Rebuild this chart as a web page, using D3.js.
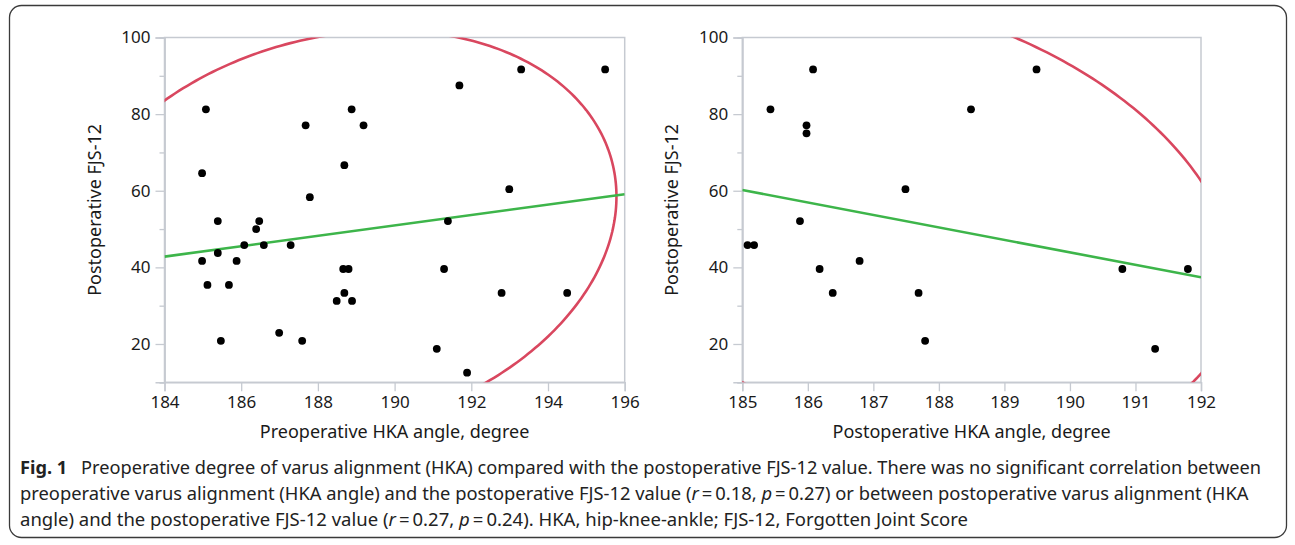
<!DOCTYPE html>
<html>
<head>
<meta charset="utf-8">
<script src="https://cdn.jsdelivr.net/npm/d3@7"></script>
<style>
  html, body { margin: 0; padding: 0; background: #fff; }
  svg { display: block; }
  text { font-family: "Noto Sans", "Open Sans", sans-serif; }
</style>
</head>
<body>
<svg id="chart" width="1295" height="545"></svg>
<script>
// ---------- DATA ----------
const yTicks = [20, 40, 60, 80, 100];
const yMinorTicks = [10, 30, 50, 70, 90];
const leftXTicks = [184, 186, 188, 190, 192, 194, 196];
const rightXTicks = [185, 186, 187, 188, 189, 190, 191, 192];

// Preoperative HKA angle vs postoperative FJS-12
const leftX = [185.08, 184.98, 187.68, 188.88, 189.19, 188.69, 187.79, 191.69, 193.30, 195.49,
               192.99, 185.39, 186.47, 186.39, 186.08, 186.59, 187.29, 185.39, 184.98, 185.88,
               188.66, 188.80, 185.12, 185.68, 188.69, 188.49, 188.89, 186.99, 185.47, 187.59,
               191.39, 191.29, 192.79, 194.50, 191.10, 191.89];
const leftY = [81.25, 64.58, 77.08, 81.25, 77.08, 66.67, 58.33, 87.50, 91.67, 91.67,
               60.42, 52.08, 52.08, 50.00, 45.83, 45.83, 45.83, 43.75, 41.67, 41.67,
               39.58, 39.58, 35.42, 35.42, 33.33, 31.25, 31.25, 22.92, 20.83, 20.83,
               52.08, 39.58, 33.33, 33.33, 18.75, 12.50];

// Postoperative HKA angle vs postoperative FJS-12
const rightX = [186.08, 185.43, 185.98, 185.98, 187.49, 188.49, 189.49, 185.88, 185.08, 185.18,
                186.79, 186.18, 186.38, 187.69, 187.79, 190.80, 191.80, 191.30];
const rightY = [91.67, 81.25, 77.08, 75.00, 60.42, 81.25, 91.67, 52.08, 45.83, 45.83,
                41.67, 39.58, 33.33, 33.33, 20.83, 39.58, 39.58, 18.75];

// Linear fit endpoints [x, y]
const leftFit = [[184, 42.8], [196, 59.1]];
const rightFit = [[185, 60.2], [192, 37.4]];

// 95% density ellipse parameters: [meanX, meanY, sdX, sdY, r]
const leftEllipse = [188.54, 48.97, 2.96, 21.6, 0.18];
const rightEllipse = [187.40, 52.38, 2.096, 24.18, -0.282];

// ---------- DRAW ----------
const svg = d3.select("#chart");
svg.append("rect").attr("x", 0).attr("y", 0).attr("width", 1295).attr("height", 545).attr("fill", "#fff");

// outer rounded frame
svg.append("rect")
  .attr("x", 9.5).attr("y", 5.5).attr("width", 1277).attr("height", 532)
  .attr("rx", 12).attr("ry", 12)
  .attr("fill", "none").attr("stroke", "#3a3a3a").attr("stroke-width", 1.3);

const K = Math.sqrt(5.991); // chi-square 2 df, 95%
const frameColor = "#c6cad1";
const red = "#d9475f";
const green = "#3db54a";

function panel(opts) {
  const { left, right, top, bottom, xDomain, xTicks, xs, ys, fit, ell, xTitle, yTitleX, id } = opts;
  const x = d3.scaleLinear().domain(xDomain).range([left, right]);
  const y = d3.scaleLinear().domain([10, 100]).range([bottom, top]);
  const g = svg.append("g");

  g.append("clipPath").attr("id", id).append("rect")
    .attr("x", left).attr("y", top).attr("width", right - left).attr("height", bottom - top);

  // frame
  g.append("rect").attr("x", left).attr("y", top).attr("width", right - left).attr("height", bottom - top)
    .attr("fill", "none").attr("stroke", frameColor).attr("stroke-width", 1.5);

  // axes
  const xAxis = d3.axisBottom(x).tickValues(xTicks).tickSize(9).tickPadding(5).tickFormat(d3.format("d"));
  const gx = g.append("g").attr("transform", `translate(0,${bottom})`).call(xAxis);
  const yAxis = d3.axisLeft(y).tickValues(yTicks).tickSize(9).tickPadding(5).tickFormat(d3.format("d"));
  const gy = g.append("g").attr("transform", `translate(${left},0)`).call(yAxis);
  const yMinor = d3.axisLeft(y).tickValues(yMinorTicks).tickSize(5).tickFormat("");
  const gym = g.append("g").attr("transform", `translate(${left},0)`).call(yMinor);
  [gx, gy, gym].forEach(a => {
    a.select(".domain").attr("stroke", frameColor).attr("stroke-width", 1.5);
    a.selectAll(".tick line").attr("stroke", frameColor).attr("stroke-width", 1.3);
    a.selectAll(".tick text").attr("fill", "#1a1a1a").style("font-size", "17px")
      .style("font-family", "'Noto Sans', sans-serif");
  });

  // ellipse
  const pts = d3.range(0, 361).map(deg => {
    const t = deg * Math.PI / 180;
    const [mx, my, sx, sy, r] = ell;
    return [mx + K * sx * Math.cos(t),
            my + K * sy * (r * Math.cos(t) + Math.sqrt(1 - r * r) * Math.sin(t))];
  });
  const line = d3.line().x(d => x(d[0])).y(d => y(d[1]));
  const clipG = g.append("g").attr("clip-path", `url(#${id})`);
  clipG.append("path").attr("d", line(pts)).attr("fill", "none").attr("stroke", red).attr("stroke-width", 2.6);
  clipG.append("path").attr("d", line(fit)).attr("fill", "none").attr("stroke", green).attr("stroke-width", 2.6);

  // points
  clipG.selectAll("circle").data(xs.map((v, i) => [v, ys[i]])).join("circle")
    .attr("cx", d => x(d[0])).attr("cy", d => y(d[1])).attr("r", 3.9).attr("fill", "#000");

  // titles
  g.append("text").attr("x", (left + right) / 2).attr("y", 438).attr("text-anchor", "middle")
    .style("font-size", "18px").attr("fill", "#1a1a1a").text(xTitle);
  g.append("text").attr("transform", `translate(${yTitleX},${(top + bottom) / 2}) rotate(-90)`)
    .attr("text-anchor", "middle").style("font-size", "18px").attr("fill", "#1a1a1a").text("Postoperative FJS-12");
}

panel({ left: 164.5, right: 624.7, top: 37.5, bottom: 382.3, xDomain: [184, 196], xTicks: leftXTicks,
        xs: leftX, ys: leftY, fit: leftFit, ell: leftEllipse, xTitle: "Preoperative HKA angle, degree",
        yTitleX: 101, id: "clipL" });
panel({ left: 742.3, right: 1201, top: 37.5, bottom: 382.3, xDomain: [185, 192], xTicks: rightXTicks,
        xs: rightX, ys: rightY, fit: rightFit, ell: rightEllipse, xTitle: "Postoperative HKA angle, degree",
        yTitleX: 678, id: "clipR" });

// caption
const capLines = [
  { y: 474, w: 1242, parts: [["Fig. 1", "bold", false], ["\u2002 Preoperative degree of varus alignment (HKA) compared with the postoperative FJS-12 value. There was no significant correlation between", "normal", false]] },
  { y: 500, w: 1230, parts: [["preoperative varus alignment (HKA angle) and the postoperative FJS-12 value (", "normal", false], ["r", "normal", true], ["\u2009=\u20090.18, ", "normal", false], ["p", "normal", true], ["\u2009=\u20090.27) or between postoperative varus alignment (HKA", "normal", false]] },
  { y: 526, w: 948, parts: [["angle) and the postoperative FJS-12 value (", "normal", false], ["r", "normal", true], ["\u2009=\u20090.27, ", "normal", false], ["p", "normal", true], ["\u2009=\u20090.24). HKA, hip-knee-ankle; FJS-12, Forgotten Joint Score", "normal", false]] }
];
capLines.forEach(l => {
  const t = svg.append("text").attr("x", 0).attr("y", 0).style("font-size", "18px").attr("fill", "#222")
    .attr("xml:space", "preserve");
  l.parts.forEach(p => {
    t.append("tspan").text(p[0]).style("font-weight", p[1]).style("font-style", p[2] ? "italic" : "normal");
  });
  const w = t.node().getComputedTextLength();
  t.attr("transform", `translate(20,${l.y}) scale(${l.w / w},1)`);
});
</script>
</body>
</html>
